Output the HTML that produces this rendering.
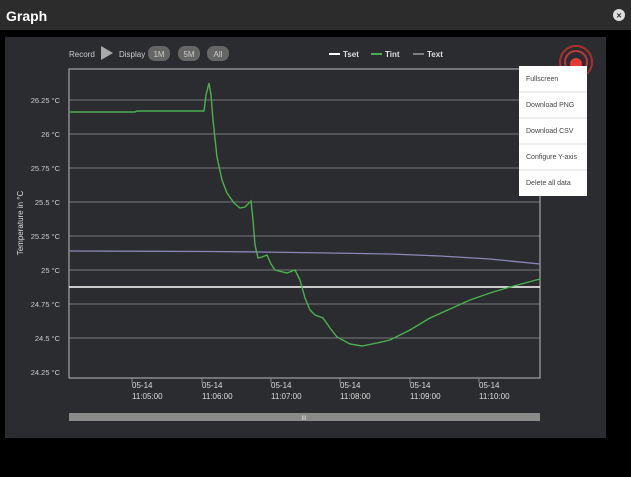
<!DOCTYPE html><html><head><style>
body{margin:0;width:631px;height:472px;background:#000;overflow:hidden;font-family:"Liberation Sans",sans-serif}
</style></head><body>
<svg width="631" height="472" xmlns="http://www.w3.org/2000/svg" font-family="Liberation Sans, sans-serif">
<rect x="0" y="0" width="631" height="30" fill="#2c2c2c"/>
<text x="6" y="21" fill="#fff" font-size="14" font-weight="bold">Graph</text>
<circle cx="619" cy="15" r="6" fill="#ddd"/><text x="619" y="18.5" fill="#2c2c2c" font-size="9" font-weight="bold" text-anchor="middle">×</text>
<rect x="5" y="37" width="601" height="401" fill="#2b2c2f"/>
<text x="69" y="57" fill="#ccc" font-size="8">Record</text>
<polygon points="101,46 101,60 113,53" fill="#aaa"/>
<text x="119" y="57" fill="#ccc" font-size="8">Display</text>
<rect x="148" y="46" width="22" height="15" rx="7" fill="#666"/><text x="159" y="57" fill="#ccc" font-size="8" text-anchor="middle">1M</text>
<rect x="178" y="46" width="22" height="15" rx="7" fill="#666"/><text x="189" y="57" fill="#ccc" font-size="8" text-anchor="middle">5M</text>
<rect x="207" y="46" width="22" height="15" rx="7" fill="#666"/><text x="218" y="57" fill="#ccc" font-size="8" text-anchor="middle">All</text>
<line x1="329" y1="54" x2="340" y2="54" stroke="#fff" stroke-width="2"/><text x="343" y="57" fill="#ddd" font-size="8" font-weight="bold">Tset</text>
<line x1="371" y1="54" x2="382" y2="54" stroke="#4caf50" stroke-width="2"/><text x="385" y="57" fill="#ddd" font-size="8" font-weight="bold">Tint</text>
<line x1="413" y1="54" x2="424" y2="54" stroke="#999" stroke-width="1.5"/><text x="427" y="57" fill="#ddd" font-size="8" font-weight="bold">Text</text>
<g stroke="#777" stroke-width="1">
<line x1="69" y1="100" x2="540" y2="100"/><line x1="69" y1="134" x2="540" y2="134"/><line x1="69" y1="168" x2="540" y2="168"/><line x1="69" y1="202" x2="540" y2="202"/><line x1="69" y1="236" x2="540" y2="236"/><line x1="69" y1="270" x2="540" y2="270"/><line x1="69" y1="304" x2="540" y2="304"/><line x1="69" y1="338" x2="540" y2="338"/>
</g>
<rect x="69" y="69" width="471" height="309" fill="none" stroke="#bbb"/>
<g fill="#ccc" font-size="7.5" text-anchor="end">
<text x="60" y="103">26.25 °C</text><text x="60" y="137">26 °C</text><text x="60" y="171">25.75 °C</text><text x="60" y="205">25.5 °C</text><text x="60" y="239">25.25 °C</text><text x="60" y="273">25 °C</text><text x="60" y="307">24.75 °C</text><text x="60" y="341">24.5 °C</text><text x="60" y="375">24.25 °C</text>
</g>
<text transform="translate(23,223) rotate(-90)" fill="#ddd" font-size="8" text-anchor="middle">Temperature in °C</text>
<g stroke="#888"><line x1="132" y1="378" x2="132" y2="383"/><line x1="202" y1="378" x2="202" y2="383"/><line x1="271" y1="378" x2="271" y2="383"/><line x1="340" y1="378" x2="340" y2="383"/><line x1="410" y1="378" x2="410" y2="383"/><line x1="479" y1="378" x2="479" y2="383"/></g>
<g fill="#ddd" font-size="8">
<text x="132" y="388">05-14</text><text x="132" y="399">11:05:00</text>
<text x="202" y="388">05-14</text><text x="202" y="399">11:06:00</text>
<text x="271" y="388">05-14</text><text x="271" y="399">11:07:00</text>
<text x="340" y="388">05-14</text><text x="340" y="399">11:08:00</text>
<text x="410" y="388">05-14</text><text x="410" y="399">11:09:00</text>
<text x="479" y="388">05-14</text><text x="479" y="399">11:10:00</text>
</g>
<line x1="69" y1="287" x2="540" y2="287" stroke="#fff" stroke-width="1.5"/>
<polyline fill="none" stroke="#8a88b8" stroke-width="1.3" points="69,251 210,251.5 260,252 330,253 390,254 440,256 490,259 540,264"/>
<polyline fill="none" stroke="#4caf50" stroke-width="1.4" points="69,112 135,112 137,111 204,111 206,95 209,83 211,95 213,120 217,157 222,180 227,193 234,203 240,208 245,207 251,201 253,220 255,245 258,258 262,257 267,255 271,264 275,270 287,273 295,270 300,280 305,298 310,310 315,315 323,318 330,328 337,337 350,344 362,346 377,343 390,340 410,330 430,318 450,309 470,300 490,293 510,287 525,283 540,279"/>
<rect x="69" y="413" width="471" height="8" fill="#8a8a8a"/>
<text x="304" y="420" fill="#ddd" font-size="6" text-anchor="middle">III</text>
<circle cx="576" cy="62" r="16" fill="none" stroke="#d03030" stroke-width="2" opacity="0.8"/>
<circle cx="576" cy="62" r="11" fill="none" stroke="#e04040" stroke-width="2" opacity="0.8"/>
<circle cx="576" cy="64" r="6" fill="#e53935"/>
<rect x="519" y="66" width="68" height="130" fill="#fff"/>
<g stroke="#ddd"><line x1="519" y1="92" x2="587" y2="92"/><line x1="519" y1="118" x2="587" y2="118"/><line x1="519" y1="144" x2="587" y2="144"/><line x1="519" y1="170" x2="587" y2="170"/></g>
<g fill="#444" font-size="7">
<text x="526" y="81">Fullscreen</text><text x="526" y="107">Download PNG</text><text x="526" y="133">Download CSV</text><text x="526" y="159">Configure Y-axis</text><text x="526" y="185">Delete all data</text>
</g>
</svg>
</body></html>
